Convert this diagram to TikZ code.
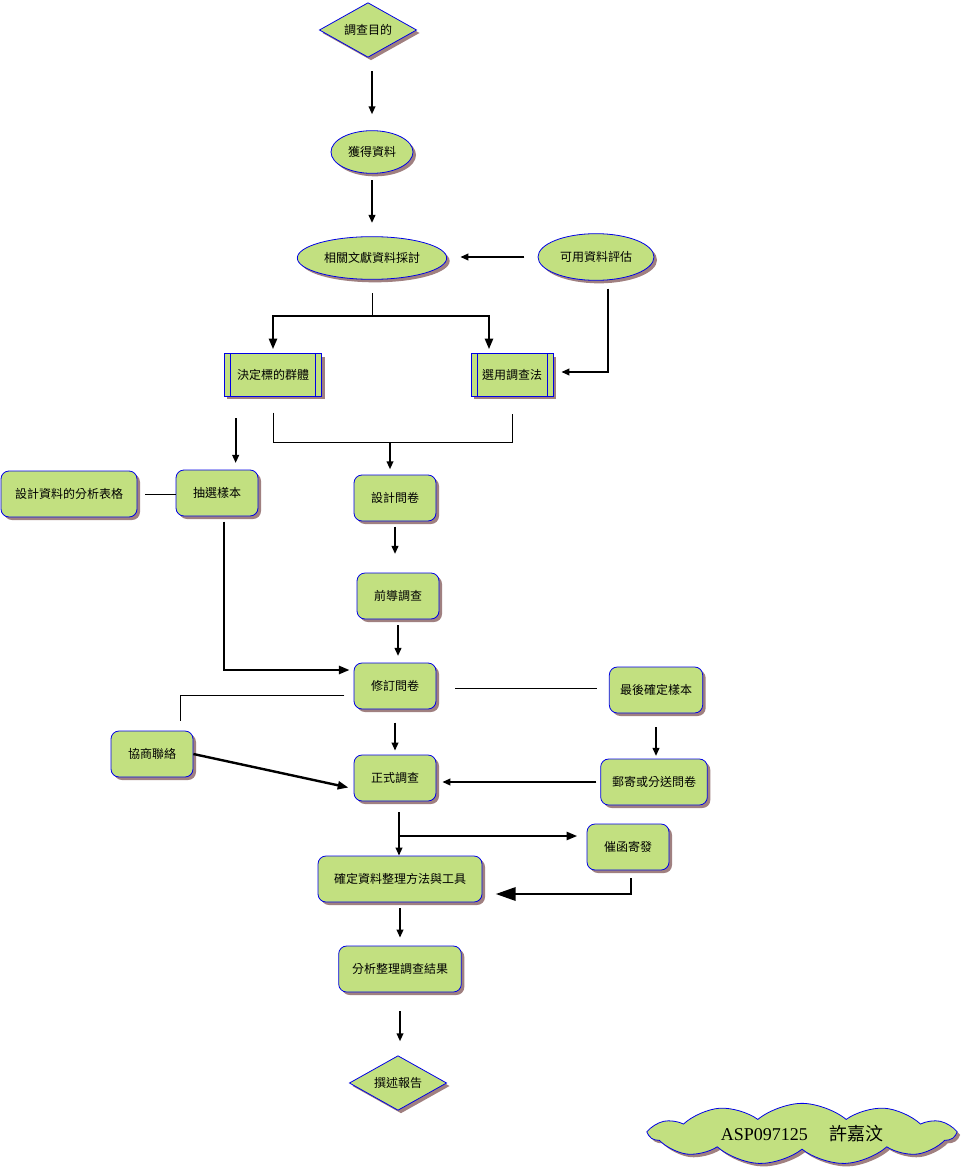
\documentclass[tikz,border=0pt]{standalone}
\usepackage{xcolor}
\definecolor{leaf}{RGB}{194,224,128}
\definecolor{edge}{RGB}{0,0,230}
\definecolor{shade}{RGB}{160,128,128}
\usepackage{fontspec}
\setmainfont{Liberation Serif}
\newfontfamily\cjk{Noto Sans CJK TC}
\usepackage{tikz}
\usetikzlibrary{
    shapes.geometric,
    shapes.symbols,
    arrows.meta,
    positioning,
    calc,
    shadows
}

\begin{document}
\begin{tikzpicture}[
        x=0.75pt, y=-0.75pt,
        font=\cjk\fontsize{9}{11}\selectfont,
        base/.style={draw=edge, fill=leaf, line width=0.6pt, inner sep=1pt,
            drop shadow={shadow xshift=2.25pt, shadow yshift=-2.25pt, fill=shade, opacity=1}},
        roundbox/.style={base, rectangle, rounded corners=6pt, minimum width=#1, minimum height=34.5pt},
        procbox/.style={base, rectangle, minimum width=#1, minimum height=32pt,
            path picture={
                \draw[edge, line width=0.6pt] ([xshift=4.5pt]path picture bounding box.north west) -- ([xshift=4.5pt]path picture bounding box.south west);
                \draw[edge, line width=0.6pt] ([xshift=-4.5pt]path picture bounding box.north east) -- ([xshift=-4.5pt]path picture bounding box.south east);
            }},
        oval/.style={base, ellipse, minimum width=#1, minimum height=32pt},
        decision/.style={base, diamond, aspect=1.8, inner sep=0pt, minimum width=73pt, minimum height=41pt},
        line/.style={black, line width=0.75pt},
        arr/.style={black, line width=1.3pt, -{Triangle[length=6pt, width=5pt]}},
        bigarr/.style={black, line width=1.8pt, -{Triangle[length=8pt, width=6pt]}},
        hugearr/.style={black, line width=1.8pt, -{Triangle[length=15pt, width=10pt]}}
    ]
        \useasboundingbox (0,0) rectangle (968,1170);

        % Top of the flow
        \node[decision] (goal) at (368,30) {調查目的};
        \node[oval=61.5pt] (get) at (372,152) {獲得資料};
        \node[oval=112pt] (lit) at (372,258) {相關文獻資料採討};
        \node[oval=87pt, minimum height=35pt] (avail) at (596,257) {可用資料評估};

        % Planning
        \node[procbox=73pt] (target) at (273,375) {決定標的群體};
        \node[procbox=61.5pt] (method) at (512,375) {選用調查法};
        \node[roundbox=61.5pt] (sample) at (217,493) {抽選樣本};
        \node[roundbox=102pt] (form) at (69,494) {設計資料的分析表格};
        \node[roundbox=61.5pt] (design) at (395,498) {設計問卷};
        \node[roundbox=61.5pt] (pilot) at (398,596) {前導調查};
        \node[roundbox=61.5pt] (revise) at (395,686) {修訂問卷};

        % Survey
        \node[roundbox=70pt] (final) at (656,690) {最後確定樣本};
        \node[roundbox=80pt] (mail) at (654,782) {郵寄或分送問卷};
        \node[roundbox=61.5pt] (contact) at (152,754) {協商聯絡};
        \node[roundbox=61.5pt] (survey) at (395,778) {正式調查};
        \node[roundbox=61.5pt] (remind) at (628,847) {催函寄發};

        % Results
        \node[roundbox=123pt] (tools) at (400,879) {確定資料整理方法與工具};
        \node[roundbox=92pt] (analysis) at (400,969) {分析整理調查結果};
        \node[decision] (report) at (398,1083) {撰述報告};

        % Signature
        \node[base, cloud, cloud puffs=11, cloud puff arc=80, cloud ignores aspect,
            minimum width=228pt, minimum height=46pt] (sign) at (802,1134)
            {\fontsize{13.5}{16}\selectfont\rmfamily ASP097125\hspace{16pt}{\cjk 許嘉汶}};

        % Bend points
        \coordinate (split) at (372,316);
        \coordinate (splitR) at (489,316);
        \coordinate (bendA) at (608,372);
        \coordinate (merge) at (390,442);
        \coordinate (bendB) at (224,670);
        \coordinate (bendC) at (180,695);
        \coordinate (fork) at (399,836);
        \coordinate (bendD) at (631,894);

        % Connections
        \draw[arr, shorten <=10pt, shorten >=12pt] (get.north |- goal.south) -- (get.north);
        \draw[arr, shorten <=5pt, shorten >=10pt] (get.south) -- (lit.north);
        \draw[arr, shorten <=10pt, shorten >=10pt] (avail.west) -- (avail.west -| lit.east);
        \draw[line, shorten <=10pt] (lit.south) -- (split);
        \draw[bigarr, shorten >=3pt] (split) -| (target.north);
        \draw[bigarr, shorten >=3pt] (split) -- (splitR) -- (splitR |- method.north);
        \draw[arr, shorten <=6pt, shorten >=6pt] (bendA |- avail.south) -- (bendA) -- (method.east |- bendA);
        \draw[arr, shorten <=16pt, shorten >=5pt] ([xshift=-28pt]target.south) -- ([xshift=-28pt]target.south |- sample.north);
        \draw[line, shorten <=12pt, shorten >=13pt] (target.south) -- (target.south |- merge) -- (method.south |- merge) -- (method.south);
        \draw[arr, shorten >=4pt] (merge) -- (merge |- design.north);
        \draw[line, shorten <=6pt] (form.east) -- (form.east -| sample.west);
        \draw[arr, shorten <=4pt, shorten >=14pt] (design.south) -- (design.south |- pilot.north);
        \draw[arr, shorten <=4.5pt, shorten >=5pt] (pilot.south) -- (pilot.south |- revise.north);
        \draw[bigarr, shorten <=4pt, shorten >=3pt] (bendB |- sample.south) -- (bendB) -- (revise.west |- bendB);
        \draw[line, shorten <=7pt, shorten >=7.5pt] (revise.west |- bendC) -- (bendC) -- (bendC |- contact.north);
        \draw[line, shorten <=14pt, shorten >=9pt] ([yshift=-1.5pt]revise.east) -- ([yshift=-1.5pt]revise.east -| final.west);
        \draw[arr, shorten <=10.5pt, shorten >=2pt] (final.south) -- (final.south |- mail.north);
        \draw[arr, shorten <=3pt, shorten >=4.5pt] (mail.west) -- (mail.west -| survey.east);
        \draw[arr, shorten <=10pt, shorten >=3pt] (revise.south) -- (survey.north);
        \draw[bigarr, shorten >=4pt] (contact.east) -- ([yshift=-8pt]survey.west);
        \draw[arr, shorten <=8pt] (fork |- survey.south) -- (fork |- tools.north);
        \draw[bigarr, shorten >=7pt] (fork) -- (fork -| remind.west);
        \draw[hugearr, shorten <=6pt, shorten >=10pt] (bendD |- remind.south) -- (bendD) -- (tools.east |- bendD);
        \draw[arr, shorten <=4.5pt, shorten >=6pt] (tools.south) -- (tools.south |- analysis.north);
        \draw[arr, shorten <=14pt, shorten >=10.5pt] (analysis.south) -- (analysis.south |- report.north);
\end{tikzpicture}
\end{document}
